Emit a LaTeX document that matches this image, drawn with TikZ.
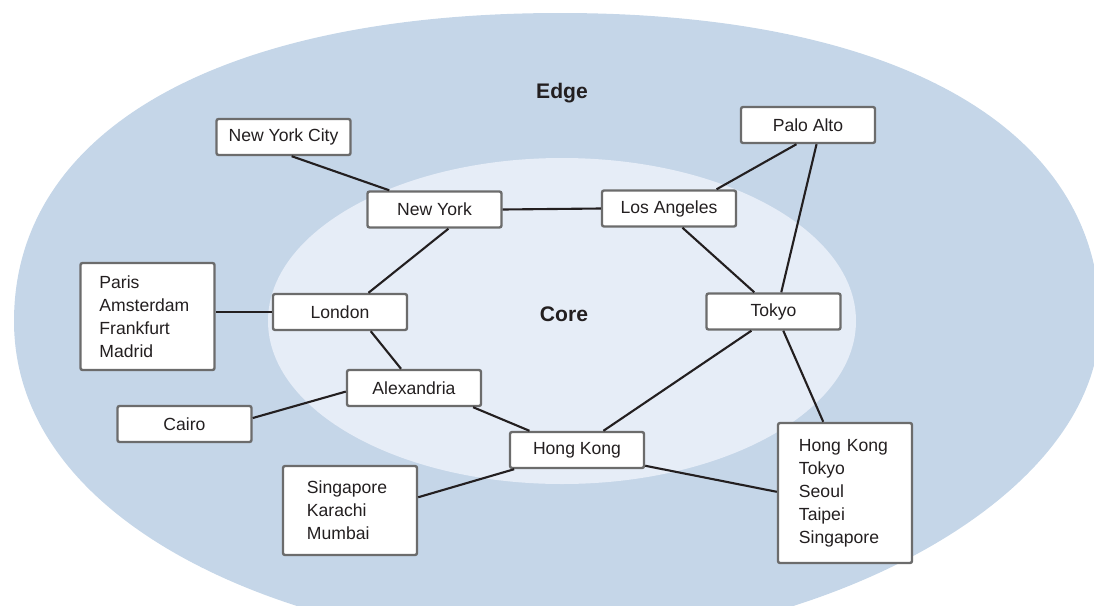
\documentclass[tikz,border=0pt]{standalone}
\usepackage{fontspec}
\setmainfont{Liberation Sans}
\usetikzlibrary{positioning}

\definecolor{edgeblue}{RGB}{197,214,232}
\definecolor{coreblue}{RGB}{230,237,247}
\definecolor{boxgray}{RGB}{108,108,108}
\definecolor{ink}{RGB}{35,31,32}

\begin{document}
\begin{tikzpicture}[x=0.025cm, y=-0.025cm]

\tikzset{city/.style = {shape=rectangle, draw=boxgray, fill=white, line width=1.7pt, rounded corners=1.5pt,
  minimum width=3.35cm, minimum height=0.9cm, text=ink, font=\fontsize{12.5}{16.3}\selectfont}}
\tikzset{citylist/.style = {city, align=left, text width=2.4cm, inner xsep=0.45cm}}
\tikzset{link/.style = {draw=ink, line width=1.5pt}}
\tikzset{zone/.style = {text=ink, font=\fontsize{15}{18}\selectfont\bfseries}}

\useasboundingbox (0,0) rectangle (1094,606);
\clip (0,0) rectangle (1094,606);

%regions
\fill[edgeblue] (14,321) .. controls (14,130) and (221,13) .. (560,13)
  .. controls (900,13) and (1100,130) .. (1100,320)
  .. controls (1100,500) and (820,640) .. (560,645)
  .. controls (330,650) and (14,540) .. (14,321) -- cycle;
\fill[coreblue] (562,321) ellipse [x radius=294, y radius=163];

\node[zone] (edgename) at (562,93) {Edge};
\node[zone] (corename) at (564,314) {Core};

%verticies
\node[city] (nyc) at (283.5,137) {New York City};
\node[city] (pa) at (808,125) {Palo Alto};
\node[city] (ny) at (434.5,209.5) {New York};
\node[city] (la) at (669,208.5) {Los Angeles};
\node[city] (lon) at (340,312) {London};
\node[city] (tok) at (773.5,311.5) {Tokyo};
\node[city] (alx) at (414,388) {Alexandria};
\node[city] (cai) at (184.5,424) {Cairo};
\node[city] (hk) at (577,450) {Hong Kong};
\node[citylist, minimum height=2.675cm] (eu) at (147.5,316.5) {Paris\\Amsterdam\\Frankfurt\\Madrid};
\node[citylist, minimum height=2.225cm, inner xsep=0.6cm, text width=2.15cm] (sa) at (350,510.5) {Singapore\\Karachi\\Mumbai};
\node[citylist, minimum height=3.5cm, inner xsep=0.52cm, text width=2.3cm] (ea) at (845,493) {Hong Kong\\Tokyo\\Seoul\\Taipei\\Singapore};

%edges
\draw[link] (nyc.-67) -- (ny.157);
\draw[link] (ny.east) -- (la.west);
\draw[link] (la.22) -- (pa.-121);
\draw[link] (pa.-66) -- (tok.68);
\draw[link] (la.-55) -- (tok.135);
\draw[link] (ny.-54) -- (lon.34);
\draw[link] (lon.west) -- (lon.west -| eu.east);
\draw[link] (lon.-32) -- (alx.124);
\draw[link] (alx.183) -- (cai.5);
\draw[link] (alx.-18) -- (hk.158);
\draw[link] (tok.-139) -- (hk.36);
\draw[link] (tok.-63) -- (ea.107);
\draw[link] (hk.-163) -- (sa.11);
\draw[link] (hk.-13) -- (ea.179);

\end{tikzpicture}
\end{document}
